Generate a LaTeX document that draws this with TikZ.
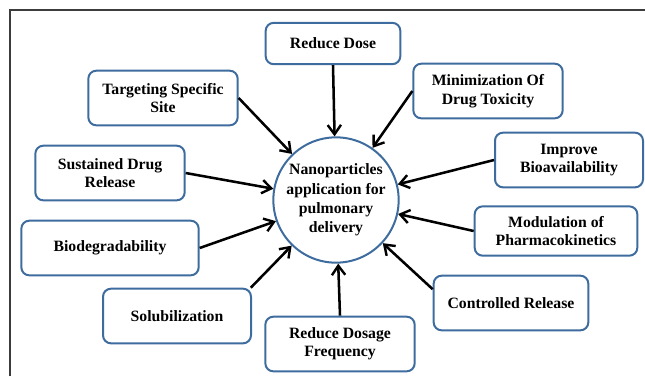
\documentclass[tikz,border=0pt]{standalone}
\usepackage{fontspec}
\setmainfont{Liberation Serif}
\usetikzlibrary{arrows.meta}
\definecolor{boxblue}{RGB}{62,108,158}
\definecolor{framegray}{RGB}{60,60,60}
\newcommand{\BoxH}{41pt}

\tikzset{
	box/.style={draw=boxblue, line width=1.5pt, rounded corners=6pt, fill=white,
		align=center, inner sep=2pt, minimum height=\BoxH,
		font=\fontsize{11.8}{13.8}\selectfont\bfseries},
	hub/.style={circle, draw=boxblue, line width=1.5pt, fill=white, align=center,
		inner sep=0pt, minimum size=94pt,
		font=\fontsize{11.8}{14.5}\selectfont\bfseries},
	feed/.style={-{Straight Barb[length=7pt,width=10pt,line width=1.8pt]}, line width=1.9pt}
}

\begin{document}
\begin{tikzpicture}[x=0.75pt,y=-0.75pt]
		\useasboundingbox (0,0) rectangle (645,376);
		\draw[framegray, line width=1pt] (10,376) -- (10,10) -- (645,10);% Frame

		\node[hub] (np) at (336,200) {Nanoparticles\\application for\\pulmonary\\delivery};

		\node[box, minimum width=101pt, minimum height=31pt] (rd) at (333,43.5) {Reduce Dose};
		\node[box, minimum width=112pt] (mdt) at (488,91) {Minimization Of\\Drug Toxicity};
		\node[box, minimum width=112pt] (tss) at (163,98) {Targeting Specific\\Site};
		\node[box, minimum width=112pt] (sdr) at (110,173) {Sustained Drug\\Release};
		\node[box, minimum width=111pt] (ib) at (569,160) {Improve\\Bioavailability};
		\node[box, minimum width=122pt, minimum height=37pt] (mp) at (556,231) {Modulation of\\Pharmacokinetics};
		\node[box, minimum width=133pt] (bio) at (110,248) {Biodegradability};
		\node[box, minimum width=116pt] (crl) at (511,303) {Controlled Release};
		\node[box, minimum width=111pt] (sol) at (177,316) {Solubilization};
		\node[box, minimum width=112pt] (rdf) at (340,344) {Reduce Dosage\\Frequency};

		\draw[feed] (rd.south) -- (np);
		\draw[feed] (mdt.west) -- (np);
		\draw[feed] (tss.east) -- (np);
		\draw[feed] (sdr.east) -- (np);
		\draw[feed] (ib.west) -- (np);
		\draw[feed] (mp.west) -- (np);
		\draw[feed] (bio.east) -- (np);
		\draw[feed] (crl.170) -- (np);
		\draw[feed] (sol.21) -- (np);
		\draw[feed] (rdf.north) -- (np);
	\end{tikzpicture}
\end{document}
